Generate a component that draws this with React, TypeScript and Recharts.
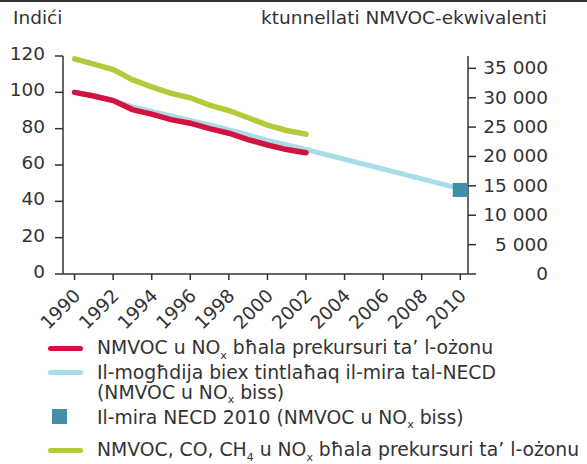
import React from "react";
import { ComposedChart, Line, Scatter, XAxis, YAxis } from "recharts";

const years = [
  1990, 1991, 1992, 1993, 1994, 1995, 1996, 1997, 1998, 1999, 2000,
  2001, 2002, 2003, 2004, 2005, 2006, 2007, 2008, 2009, 2010,
];
// Indices 1990 = 100
const ozoneNmvocNox = [100, 98, 95.5, 90.5, 88, 85, 83, 80, 77.5, 74, 71, 68.5, 66.7];
const necdPath = [
  100, 98, 95.5, 92, 89.5, 87, 84.5, 82, 79.5, 76.5, 73.5, 71, 68.5,
  null, null, null, null, null, null, null, 47,
];
const ozoneAllPrecursors = [118.4, 115.5, 112.5, 107, 103, 99.5, 97, 93, 90, 86, 82, 79, 77];
// kt NMVOC-equivalent
const necdTarget2010 = 14300;

const xTicks = [1990, 1992, 1994, 1996, 1998, 2000, 2002, 2004, 2006, 2008, 2010];
const leftTicks = [0, 20, 40, 60, 80, 100, 120];
const rightTicks = [0, 5000, 10000, 15000, 20000, 25000, 30000, 35000];

const RED = "#d3123f";
const LIGHT_BLUE = "#a8dde7";
const GREEN = "#b5ca3a";
const SQUARE = "#418fa9";
const INK = "#333";
const FONT = "'DejaVu Sans', Verdana, sans-serif";
const FS = 18.5;
const LEGEND_FS = 18.8;

const data = years.map((y, i) => ({
  year: y,
  ozone: i < ozoneNmvocNox.length ? ozoneNmvocNox[i] : null,
  path: necdPath[i],
  all: i < ozoneAllPrecursors.length ? ozoneAllPrecursors[i] : null,
  target: y === 2010 ? necdTarget2010 : null,
}));

const fmtKt = (v: number) =>
  v === 0 ? "0" : `${Math.floor(v / 1000)} ${String(v % 1000).padStart(3, "0")}`;

function XTick({ x, y, payload }: any) {
  return (
    <g transform={`translate(${x + 7},${y + 15}) rotate(-45)`}>
      <text x={0} y={0} textAnchor="end" fill={INK} fontSize={FS} fontFamily={FONT}>
        {payload.value}
      </text>
    </g>
  );
}

function LeftTick({ x, y, payload }: any) {
  return (
    <text x={x} y={y + 4} textAnchor="end" fill={INK} fontSize={FS} fontFamily={FONT}>
      {payload.value}
    </text>
  );
}

function RightTick({ x, y, payload }: any) {
  return (
    <text x={x + 66} y={y + 6} textAnchor="end" fill={INK} fontSize={FS} fontFamily={FONT}>
      {fmtKt(payload.value)}
    </text>
  );
}

function TargetSquare(props: any) {
  const { cx, cy } = props;
  if (cx == null || cy == null) return null;
  return <rect x={cx - 7.5} y={cy - 7} width={15} height={14} fill={SQUARE} />;
}

const Sub = ({ children }: { children: React.ReactNode }) => (
  <span style={{ fontSize: 11, position: "relative", top: 4.5 }}>{children}</span>
);

const legendText: React.CSSProperties = {
  position: "absolute",
  left: 97,
  fontSize: LEGEND_FS,
  lineHeight: "20px",
  color: INK,
  whiteSpace: "nowrap",
};

function Swatch({ color, top }: { color: string; top: number }) {
  return (
    <div
      style={{
        position: "absolute",
        left: 48,
        top: top - 2.5,
        width: 35,
        height: 5,
        borderRadius: 3,
        background: color,
      }}
    />
  );
}

export default function App() {
  return (
    <div
      style={{
        position: "absolute",
        left: 0,
        top: 0,
        width: 587,
        height: 464,
        background: "#fff",
        fontFamily: FONT,
        overflow: "hidden",
      }}
    >
      <div style={{ position: "absolute", left: 0, top: 0, width: 587, height: 2, background: INK }} />
      <div style={{ position: "absolute", left: 13, top: 7, fontSize: FS, color: INK }}>Indići</div>
      <div style={{ position: "absolute", right: 40, top: 7, fontSize: FS, color: INK }}>
        ktunnellati NMVOC-ekwivalenti
      </div>

      <ComposedChart
        width={587}
        height={340}
        data={data}
        margin={{ top: 56, right: 19, bottom: 6, left: 13 }}
      >
        <XAxis
          dataKey="year"
          type="number"
          domain={[1989.4, 2010.4]}
          ticks={xTicks}
          interval={0}
          height={60}
          tickSize={6}
          tickMargin={2}
          stroke={INK}
          strokeWidth={1.5}
          tick={<XTick />}
        />
        <YAxis
          yAxisId="left"
          orientation="left"
          domain={[0, 120]}
          ticks={leftTicks}
          width={50}
          tickSize={8}
          tickMargin={10}
          stroke={INK}
          strokeWidth={1.5}
          tick={<LeftTick />}
        />
        <YAxis
          yAxisId="right"
          orientation="right"
          domain={[0, 37100]}
          ticks={rightTicks}
          width={100}
          tickSize={8}
          tickMargin={6}
          stroke={INK}
          strokeWidth={1.5}
          tick={<RightTick />}
        />
        <Line
          yAxisId="left"
          dataKey="path"
          type="linear"
          stroke={LIGHT_BLUE}
          strokeWidth={5}
          strokeLinecap="round"
          dot={false}
          connectNulls
          isAnimationActive={false}
        />
        <Line
          yAxisId="left"
          dataKey="ozone"
          type="linear"
          stroke={RED}
          strokeWidth={5.5}
          strokeLinecap="round"
          dot={false}
          isAnimationActive={false}
        />
        <Line
          yAxisId="left"
          dataKey="all"
          type="linear"
          stroke={GREEN}
          strokeWidth={5.5}
          strokeLinecap="round"
          dot={false}
          isAnimationActive={false}
        />
        <Scatter
          yAxisId="right"
          dataKey="target"
          shape={<TargetSquare />}
          isAnimationActive={false}
        />
      </ComposedChart>

      <Swatch color={RED} top={348} />
      <div style={{ ...legendText, top: 338 }}>
        NMVOC u NO<Sub>x</Sub> bħala prekursuri ta’ l-ożonu
      </div>

      <Swatch color={LIGHT_BLUE} top={372} />
      <div style={{ ...legendText, top: 362.5 }}>
        Il-mogħdija biex tintlaħaq il-mira tal-NECD
        <br />
        (NMVOC u NO<Sub>x</Sub> biss)
      </div>

      <div style={{ position: "absolute", left: 52, top: 409, width: 15, height: 15, background: SQUARE }} />
      <div style={{ ...legendText, top: 407.5 }}>
        Il-mira NECD 2010 (NMVOC u NO<Sub>x</Sub> biss)
      </div>

      <Swatch color={GREEN} top={450.5} />
      <div style={{ ...legendText, top: 440 }}>
        NMVOC, CO, CH<Sub>4</Sub> u NO<Sub>x</Sub> bħala prekursuri ta’ l-ożonu
      </div>
    </div>
  );
}
